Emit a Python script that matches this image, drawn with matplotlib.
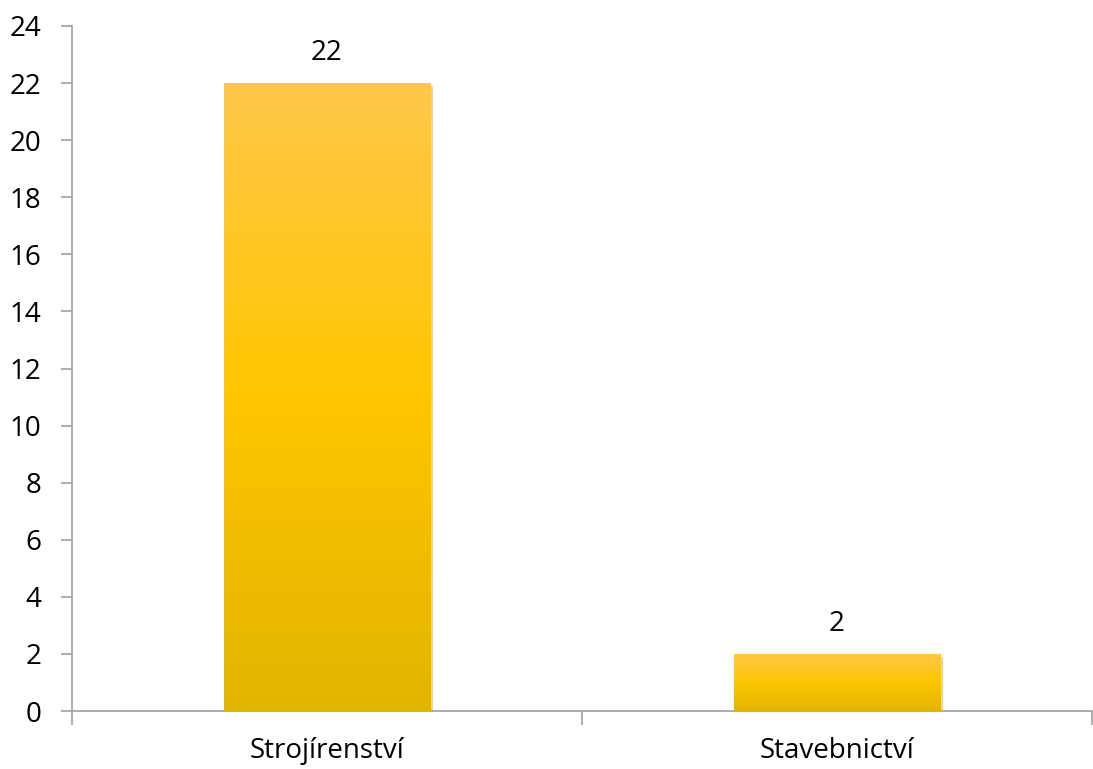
import matplotlib.pyplot as plt
import matplotlib.patheffects as pe
import numpy as np
from matplotlib.colors import LinearSegmentedColormap

categories = ['Strojírenství', 'Stavebnictví']
values = [22, 2]
yticks = list(range(0, 25, 2))

plt.rcParams['font.family'] = ['Open Sans', 'DejaVu Sans']

fig = plt.figure(figsize=(10.93, 7.69), dpi=100)
ax = fig.add_axes([0.0659, 0.0754, 0.933, 0.8908])

x = np.arange(len(categories))
bars = ax.bar(x, values, width=0.405, color='#FFC600', zorder=2,
              path_effects=[pe.SimplePatchShadow(offset=(2, -2), shadow_rgbFace='#888888', alpha=0.35), pe.Normal()])

# vertical gradient inside each bar
cmap = LinearSegmentedColormap.from_list('gold', ['#E2B400', '#FFC600', '#FFC84A'])
grad = np.linspace(0, 1, 256).reshape(-1, 1)
for b in bars:
    x0, y0 = b.get_x(), b.get_y()
    w, h = b.get_width(), b.get_height()
    im = ax.imshow(grad, cmap=cmap, origin='lower', aspect='auto',
                   extent=[x0, x0 + w, y0, y0 + h], zorder=3)
    im.set_clip_path(b)

for xi, v in zip(x, values):
    ax.text(xi, v + 0.55, str(v), ha='center', va='bottom', fontsize=20, color='black')

ax.set_xlim(-0.5, len(categories) - 0.5)
ax.set_ylim(0, 24)
ax.set_yticks(yticks)
ax.tick_params(axis='y', labelsize=20, length=8, width=1.2, color='#A0A0A0', pad=14)

ax.set_xticks(x)
ax.set_xticklabels(categories, fontsize=20)
ax.set_xticks([-0.5, 0.5, 1.5], minor=True)
ax.tick_params(axis='x', which='major', length=0, pad=19)
ax.tick_params(axis='x', which='minor', length=10, width=1.2, color='#A0A0A0')

for s in ['top', 'right']:
    ax.spines[s].set_visible(False)
for s in ['left', 'bottom']:
    ax.spines[s].set_color('#A0A0A0')
    ax.spines[s].set_linewidth(1.2)

fig.savefig('out.png', dpi=100)
